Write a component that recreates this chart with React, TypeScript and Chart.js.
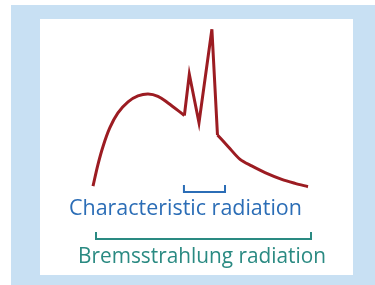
import React, { useEffect, useRef } from "react";
import { Chart, registerables } from "chart.js";

Chart.register(...registerables);

// Photon energy (relative units, 0..100) and intensity (relative units)
const continuumLowX = [0, 2.3, 4.7, 7.8, 11.6, 16.3, 20.9, 25.6, 30.2, 34.9, 42.5];
const continuumLowY = [1.1, 14.6, 26.1, 37.5, 46.9, 53.8, 57.5, 58.8, 57.3, 53.1, 45.3];
const linesX = [42.5, 44.8, 49.3, 55.3, 57.9];
const linesY = [45.3, 71.1, 40.8, 99.2, 33.1];
const continuumHighX = [57.9, 62.9, 68.4, 73.8, 80.0, 87.8, 94.0, 100];
const continuumHighY = [33.1, 25.8, 17.9, 13.8, 9.6, 5.4, 2.9, 0.8];

const labels = ["Characteristic radiation", "Bremsstrahlung radiation"];
const bracketStart = [42.3, 1.4];
const bracketEnd = [61.4, 101.4];
const bracketBase = [-2.5, -31.9];
const bracketTick = [1.9, -27.5];
const labelCenterX = [43.0, 50.7];
const labelBaselineY = [-16.9, -46.6];
const labelWidths = [233, 248];

const curveColor = "#9c1c22";
const bracketColors = ["#2b6db6", "#2a8a82"];

const pts = (xs: number[], ys: number[]) => xs.map((x, i) => ({ x, y: ys[i] }));

const bracketPts = (i: number) => [
  { x: bracketStart[i], y: bracketTick[i] },
  { x: bracketStart[i], y: bracketBase[i] },
  { x: bracketEnd[i], y: bracketBase[i] },
  { x: bracketEnd[i], y: bracketTick[i] },
];

const labelPlugin = {
  id: "bracketLabels",
  afterDatasetsDraw(chart: any) {
    const { ctx, scales } = chart;
    labels.forEach((t, i) => {
      ctx.save();
      ctx.font = "400 21px 'Open Sans'";
      ctx.textAlign = "center";
      ctx.textBaseline = "alphabetic";
      ctx.fillStyle = bracketColors[i];
      const x = scales.x.getPixelForValue(labelCenterX[i]);
      const y = scales.y.getPixelForValue(labelBaselineY[i]);
      const w = ctx.measureText(t).width;
      ctx.translate(x, y);
      ctx.scale(labelWidths[i] / w, 1);
      ctx.fillText(t, 0, 0);
      ctx.restore();
    });
  },
};

export default function App() {
  const ref = useRef<HTMLCanvasElement>(null);
  useEffect(() => {
    if (!ref.current) return;
    const common = { pointRadius: 0, borderColor: curveColor, borderWidth: 3, clip: false as any, fill: false };
    const chart = new Chart(ref.current, {
      type: "line",
      data: {
        datasets: [
          { ...common, data: pts(continuumLowX, continuumLowY), tension: 0.35, borderCapStyle: "butt" },
          { ...common, data: pts(linesX, linesY), tension: 0, borderJoinStyle: "miter" },
          { ...common, data: pts(continuumHighX, continuumHighY), tension: 0.3, borderCapStyle: "butt" },
          { data: bracketPts(0), borderColor: bracketColors[0], borderWidth: 2, pointRadius: 0, tension: 0, clip: false as any, borderJoinStyle: "miter" },
          { data: bracketPts(1), borderColor: bracketColors[1], borderWidth: 2, pointRadius: 0, tension: 0, clip: false as any, borderJoinStyle: "miter" },
        ] as any,
      },
      options: {
        responsive: false,
        animation: false,
        devicePixelRatio: 1,
        layout: { padding: { left: 40, top: 19, right: 22, bottom: 10 } },
        plugins: { legend: { display: false }, tooltip: { enabled: false } },
        scales: {
          x: { type: "linear", min: -24.65, max: 120.93, display: false },
          y: { type: "linear", min: -54.4, max: 105.6, display: false },
        },
      },
      plugins: [labelPlugin],
    });
    return () => chart.destroy();
  }, []);
  return (
    <div style={{ position: "absolute", left: 0, top: 0, width: 375, height: 285, background: "#fff" }}>
      <div style={{ position: "absolute", left: 11, top: 5, width: 364, height: 280, background: "#c8e0f3" }} />
      <div style={{ position: "absolute", left: 40, top: 19, width: 313, height: 256, background: "#fff" }} />
      <canvas ref={ref} width={375} height={285} style={{ position: "absolute", left: 0, top: 0, width: 375, height: 285 }} />
    </div>
  );
}
